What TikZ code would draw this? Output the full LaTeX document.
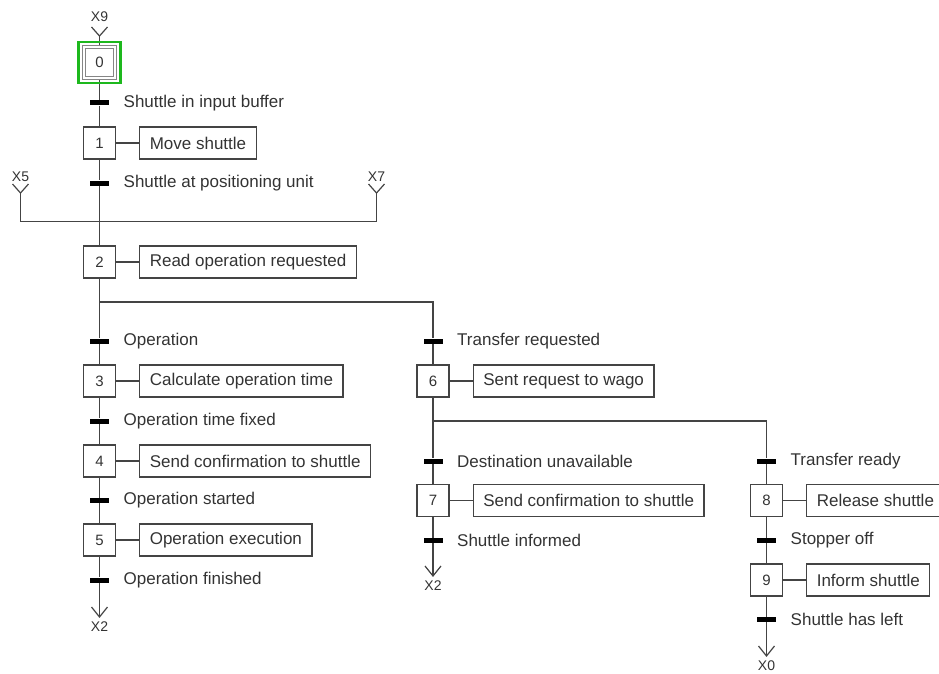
\documentclass[tikz,border=0pt]{standalone}
\usepackage{fontspec}
\setmainfont{Liberation Sans}
\usetikzlibrary{positioning,backgrounds,calc}
\definecolor{ln}{HTML}{444444}
\definecolor{tx}{HTML}{333333}
\definecolor{grn}{HTML}{1DB81D}
\begin{document}
\begin{tikzpicture}[x=1pt,y=-1pt,
  every node/.style={text=tx},
  stepbox/.style={draw=ln,line width=1.3pt,minimum width=32pt,minimum height=32pt,inner sep=0pt,font=\fontsize{15}{17}\selectfont},
  initbox/.style={draw=gray!95,line width=1.4pt,double=white,double distance=1.1pt,minimum width=31pt,minimum height=31pt,inner sep=0pt,font=\fontsize{15}{17}\selectfont},
  actbox/.style={draw=ln,line width=1.3pt,minimum height=32pt,inner xsep=10pt,inner ysep=0pt,font=\fontsize{17}{20}\selectfont},
  trbar/.style={fill=black,minimum width=19pt,minimum height=5pt,inner sep=0pt},
  trlabel/.style={anchor=west,inner sep=0pt,font=\fontsize{17}{20}\selectfont},
  xlabel/.style={inner sep=0pt,font=\fontsize{14}{16}\selectfont},
  link/.style={draw=ln,line width=1.2pt}
]
\useasboundingbox (0,0) rectangle (939,674);

% ---- main column ----
\node[xlabel] (x9) at (99.5,17) {X9};
\coordinate (x9v) at (99.5,36);
\node[initbox] (s0) at (99.5,62.5) {0};
\node[draw=grn,line width=2.2pt,minimum width=42pt,minimum height=41pt,inner sep=0pt] (g0) at (99.5,62.5) {};

\node[trbar] (t01) at (99.5,103) {};
\node[trlabel] (l01) at (123.5,103) {Shuttle in input buffer};
\node[stepbox] (s1) at (99.5,143) {1};
\node[actbox,right=23pt of s1] (a1) {Move shuttle};
\node[trbar] (t12) at (99.5,183) {};
\node[trlabel] (l12) at (123.5,183) {Shuttle at positioning unit};

\node[xlabel] (x5) at (20.5,177) {X5};
\coordinate (x5v) at (20.5,193);
\node[xlabel] (x7) at (376.5,177) {X7};
\coordinate (x7v) at (376.5,193);
\coordinate (cv) at (99.5,221.5);

\node[stepbox] (s2) at (99.5,262) {2};
\node[actbox,right=23pt of s2] (a2) {Read operation requested};
\coordinate (d2) at (99.5,302);

\node[trbar] (t23) at (99.5,341) {};
\node[trlabel] (l23) at (123.5,341) {Operation};
\node[stepbox] (s3) at (99.5,381) {3};
\node[actbox,right=23pt of s3] (a3) {Calculate operation time};
\node[trbar] (t34) at (99.5,421) {};
\node[trlabel] (l34) at (123.5,421) {Operation time fixed};
\node[stepbox] (s4) at (99.5,461) {4};
\node[actbox,right=23pt of s4] (a4) {Send confirmation to shuttle};
\node[trbar] (t45) at (99.5,500.5) {};
\node[trlabel] (l45) at (123.5,500.5) {Operation started};
\node[stepbox] (s5) at (99.5,540) {5};
\node[actbox,right=23pt of s5] (a5) {Operation execution};
\node[trbar] (t5) at (99.5,580) {};
\node[trlabel] (l5) at (123.5,580) {Operation finished};
\coordinate (e5) at (99.5,617);
\node[xlabel] (x2a) at (99.5,627) {X2};

% ---- middle column ----
\node[trbar] (t26) at (433,341) {};
\node[trlabel] (l26) at (457,341) {Transfer requested};
\node[stepbox] (s6) at (433,381) {6};
\node[actbox,right=23pt of s6] (a6) {Sent request to wago};
\coordinate (d6) at (433,421);
\node[trbar] (t67) at (433,461) {};
\node[trlabel] (l67) at (457,461) {Destination unavailable};
\node[stepbox] (s7) at (433,500.5) {7};
\node[actbox,right=23pt of s7] (a7) {Send confirmation to shuttle};
\node[trbar] (t7) at (433,540.5) {};
\node[trlabel] (l7) at (457,540.5) {Shuttle informed};
\coordinate (e7) at (433,576);
\node[xlabel] (x2b) at (433,586) {X2};

% ---- right column ----
\node[trbar] (t68) at (766.5,461) {};
\node[trlabel] (l68) at (790.5,461) {Transfer ready};
\node[stepbox] (s8) at (766.5,500.5) {8};
\node[actbox,right=23pt of s8] (a8) {Release shuttle};
\node[trbar] (t89) at (766.5,540.5) {};
\node[trlabel] (l89) at (790.5,540.5) {Stopper off};
\node[stepbox] (s9) at (766.5,580) {9};
\node[actbox,right=23pt of s9] (a9) {Inform shuttle};
\node[trbar] (t9) at (766.5,619.5) {};
\node[trlabel] (l9) at (790.5,619.5) {Shuttle has left};
\coordinate (e9) at (766.5,656);
\node[xlabel] (x0) at (766.5,666) {X0};

\begin{pgfonlayer}{background}
  % entries
  \draw[link] ($(x9v)+(-8,-9)$) -- (x9v) -- ($(x9v)+(8,-9)$);
  \draw[link] (x9v) -- (s0.north);
  \draw[link] ($(x5v)+(-8,-9)$) -- (x5v) -- ($(x5v)+(8,-9)$);
  \draw[link] ($(x7v)+(-8,-9)$) -- (x7v) -- ($(x7v)+(8,-9)$);
  \draw[link] (x5v) |- (cv) -| (x7v);
  % main column
  \draw[link] (s0.south) -- (t01) -- (s1.north);
  \draw[link] (s1.south) -- (t12) -- (cv) -- (s2.north);
  \draw[link] (s2.south) -- (d2) -- (t23) -- (s3.north);
  \draw[link] (s3.south) -- (t34) -- (s4.north);
  \draw[link] (s4.south) -- (t45) -- (s5.north);
  \draw[link] (s5.south) -- (t5) -- (e5);
  \draw[link] ($(e5)+(-8,-10)$) -- (e5) -- ($(e5)+(8,-10)$);
  % divergence to 6
  \draw[link] (d2) -| (t26);
  \draw[link] (t26) -- (s6.north);
  \draw[link] (s6.south) -- (d6) -- (t67) -- (s7.north);
  \draw[link] (s7.south) -- (t7) -- (e7);
  \draw[link] ($(e7)+(-8,-10)$) -- (e7) -- ($(e7)+(8,-10)$);
  % divergence to 8
  \draw[link] (d6) -| (t68);
  \draw[link] (t68) -- (s8.north);
  \draw[link] (s8.south) -- (t89) -- (s9.north);
  \draw[link] (s9.south) -- (t9) -- (e9);
  \draw[link] ($(e9)+(-8,-10)$) -- (e9) -- ($(e9)+(8,-10)$);
  % actions
  \draw[link] (s1) -- (a1);
  \draw[link] (s2) -- (a2);
  \draw[link] (s3) -- (a3);
  \draw[link] (s4) -- (a4);
  \draw[link] (s5) -- (a5);
  \draw[link] (s6) -- (a6);
  \draw[link] (s7) -- (a7);
  \draw[link] (s8) -- (a8);
  \draw[link] (s9) -- (a9);
\end{pgfonlayer}
\end{tikzpicture}
\end{document}
